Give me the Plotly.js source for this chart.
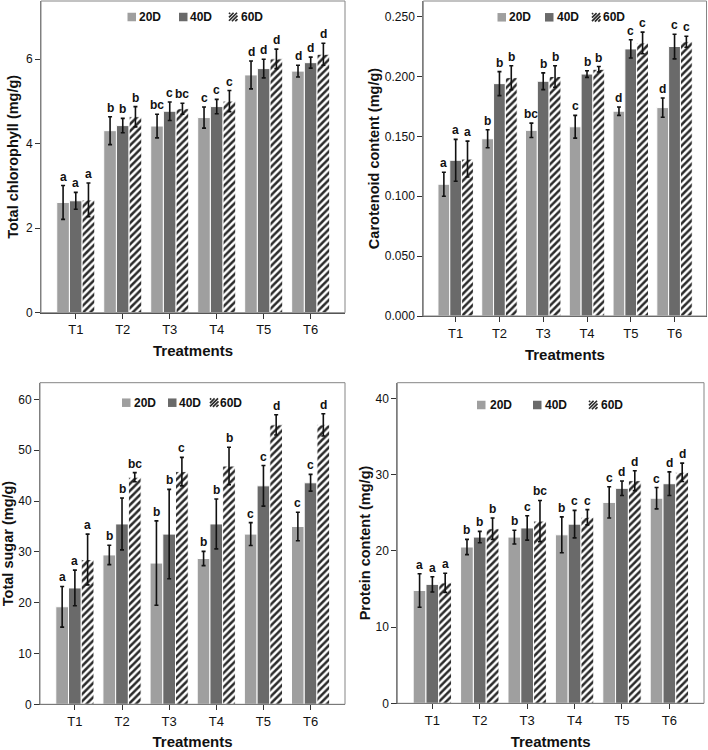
<!DOCTYPE html>
<html>
<head>
<meta charset="utf-8">
<script src="https://cdn.plot.ly/plotly-3.0.1.min.js"></script>
<style>html,body{margin:0;padding:0;background:#fff;}#chart{width:708px;height:750px;}</style>
</head>
<body>
<div id="chart"></div>
<script>
// ---------- data ----------
const treatments = ["T1", "T2", "T3", "T4", "T5", "T6"];
const seriesNames = ["20D", "40D", "60D"];

// Total chlorophyll (mg/g)
const chl20 = [2.61, 4.31, 4.42, 4.62, 5.63, 5.72];
const chl40 = [2.65, 4.43, 4.77, 4.88, 5.78, 5.92];
const chl60 = [2.67, 4.64, 4.83, 5.01, 6.01, 6.12];
const chl20Err = [0.40, 0.33, 0.28, 0.25, 0.33, 0.14];
const chl40Err = [0.20, 0.17, 0.22, 0.17, 0.22, 0.13];
const chl60Err = [0.40, 0.24, 0.13, 0.25, 0.23, 0.26];
const chl20Let = ["a", "b", "bc", "c", "d", "d"];
const chl40Let = ["a", "b", "c", "c", "d", "d"];
const chl60Let = ["a", "b", "bc", "c", "d", "d"];

// Carotenoid content (mg/g)
const car20 = [0.110, 0.148, 0.155, 0.158, 0.171, 0.174];
const car40 = [0.130, 0.194, 0.196, 0.202, 0.223, 0.225];
const car60 = [0.131, 0.199, 0.200, 0.206, 0.228, 0.229];
const car20Err = [0.010, 0.0075, 0.006, 0.0095, 0.0035, 0.008];
const car40Err = [0.0175, 0.010, 0.007, 0.0028, 0.0076, 0.0103];
const car60Err = [0.015, 0.010, 0.009, 0.0023, 0.009, 0.0046];
const car20Let = ["a", "b", "bc", "c", "d", "d"];
const car40Let = ["a", "b", "b", "b", "c", "c"];
const car60Let = ["a", "b", "b", "b", "c", "c"];

// Total sugar (mg/g)
const sug20 = [19.2, 29.4, 27.8, 28.7, 33.5, 35.0];
const sug40 = [22.9, 35.5, 33.5, 35.5, 43.0, 43.6];
const sug60 = [28.5, 44.7, 45.8, 46.9, 55.0, 55.0];
const sug20Err = [4.0, 1.9, 8.3, 1.4, 2.25, 2.8];
const sug40Err = [3.5, 5.1, 8.8, 4.9, 4.0, 1.65];
const sug60Err = [5.0, 0.9, 2.8, 3.7, 2.0, 2.2];
const sug20Let = ["a", "b", "b", "b", "c", "c"];
const sug40Let = ["a", "b", "b", "b", "c", "c"];
const sug60Let = ["a", "bc", "c", "b", "d", "d"];

// Protein content (mg/g)
const pro20 = [14.8, 20.5, 21.8, 22.1, 26.35, 26.9];
const pro40 = [15.6, 21.8, 23.0, 23.5, 28.2, 28.8];
const pro60 = [15.8, 22.9, 23.9, 24.4, 29.2, 30.3];
const pro20Err = [2.2, 1.0, 0.9, 2.35, 2.05, 1.4];
const pro40Err = [1.0, 0.75, 1.6, 1.8, 0.95, 1.55];
const pro60Err = [1.25, 1.4, 2.7, 1.0, 1.3, 1.2];
const pro20Let = ["a", "b", "b", "b", "c", "c"];
const pro40Let = ["a", "b", "c", "c", "d", "d"];
const pro60Let = ["a", "b", "bc", "c", "d", "d"];

const yTitles = ["Total chlorophyll (mg/g)", "Carotenoid content (mg/g)", "Total sugar (mg/g)", "Protein content (mg/g)"];
const xTitle = "Treatments";

// ---------- build ----------
const FONT = "Arial, 'Liberation Sans', sans-serif";
const W = 708, H = 750;
const panels = [
  {vals: [chl20, chl40, chl60], errs: [chl20Err, chl40Err, chl60Err], lets: [chl20Let, chl40Let, chl60Let],
   px: [41, 345], py: [1, 312.7], yr: [0, 7.38], tv: [0, 2, 4, 6], fmt: "", so: 3,
   leg: {sw: [127.5, 179, 229], tx: [138.5, 189.5, 240], yc: 17}},
  {vals: [car20, car40, car60], errs: [car20Err, car40Err, car60Err], lets: [car20Let, car40Let, car60Let],
   px: [423.3, 706.5], py: [1, 316], yr: [0, 0.263], tv: [0, 0.05, 0.1, 0.15, 0.2, 0.25], fmt: ".3f", so: 1,
   leg: {sw: [497.5, 545, 592], tx: [508, 556, 602], yc: 17.3}},
  {vals: [sug20, sug40, sug60], errs: [sug20Err, sug40Err, sug60Err], lets: [sug20Let, sug40Let, sug60Let],
   px: [40, 345], py: [382.7, 704.3], yr: [0, 63.3], tv: [0, 10, 20, 30, 40, 50, 60], fmt: "", so: 4,
   leg: {sw: [122, 168, 210], tx: [133, 178, 219.5], yc: 402.7}},
  {vals: [pro20, pro40, pro60], errs: [pro20Err, pro40Err, pro60Err], lets: [pro20Let, pro40Let, pro60Let],
   px: [397.3, 704], py: [382.7, 703.3], yr: [0, 42.05], tv: [0, 10, 20, 30, 40], fmt: "", so: 1,
   leg: {sw: [477, 533, 589], tx: [489, 544.5, 600.5], yc: 405}}
];

const BARGAP = 0.19;
const barW = (1 - BARGAP) / 3;
const FILL = ["#9f9f9f", "#6a6a6a", "#ffffff"];
const HATCH = "#2b2b2b";
const styles = [
  {color: FILL[0]},
  {color: FILL[1]},
  {color: FILL[2], pattern: {shape: "/", fgcolor: HATCH, bgcolor: "#ffffff", size: 5, solidity: 0.5, fillmode: "replace"}}
];

const data = [];
const annotations = [];
const shapes = [];
const layout = {
  width: W, height: H,
  margin: {l: 0, r: 0, t: 0, b: 0},
  paper_bgcolor: "#ffffff", plot_bgcolor: "#ffffff",
  barmode: "group", bargap: BARGAP, bargroupgap: 0,
  showlegend: false,
  font: {family: FONT, color: "#111"},
  annotations: annotations, shapes: shapes
};

const px2x = v => v / W;
const px2y = v => (H - v) / H;

panels.forEach((p, k) => {
  const n = k + 1;
  const xa = n === 1 ? "x" : "x" + n;
  const ya = n === 1 ? "y" : "y" + n;
  for (let s = 0; s < 3; s++) {
    data.push({
      type: "bar", x: treatments, y: p.vals[s], name: seriesNames[s],
      xaxis: xa, yaxis: ya, showlegend: false,
      marker: Object.assign({line: {color: "#ffffff", width: 1}}, styles[s]),
      error_y: {type: "data", array: p.errs[s], visible: true, color: "#111", thickness: 1.6, width: 2},
      hoverinfo: "skip"
    });
    for (let i = 0; i < treatments.length; i++) {
      annotations.push({
        xref: xa, yref: ya, x: i + (s - 1) * barW, y: p.vals[s][i] + p.errs[s][i],
        text: p.lets[s][i], showarrow: false, yanchor: "bottom", xanchor: "center", yshift: 0,
        font: {family: FONT, size: 12, color: "#111", weight: "bold"}
      });
    }
  }
  const xdom = [p.px[0] / W, p.px[1] / W];
  const ydom = [(H - p.py[1]) / H, (H - p.py[0]) / H];
  layout["xaxis" + (n === 1 ? "" : n)] = {
    domain: xdom, anchor: ya, type: "category", range: [-0.74, 5.73],
    showline: true, linecolor: "#4a4a4a", linewidth: 1, mirror: false,
    ticks: "outside", ticklen: 5, tickcolor: "#333", tickwidth: 1,
    tickfont: {family: FONT, size: 13, color: "#111"},
    showgrid: false, zeroline: false, fixedrange: true,
    title: {text: xTitle, font: {family: FONT, size: 15, color: "#111", weight: "bold"}, standoff: 9}
  };
  layout["yaxis" + (n === 1 ? "" : n)] = {
    domain: ydom, anchor: xa, range: p.yr, tickvals: p.tv, tickformat: p.fmt,
    showline: true, linecolor: "#7a7a7a", linewidth: 1,
    ticks: "outside", ticklen: 5, tickcolor: "#333", tickwidth: 1,
    tickfont: {family: FONT, size: 12, color: "#111"},
    showgrid: false, zeroline: false, fixedrange: true,
    title: {text: yTitles[k], font: {family: FONT, size: 14.5, color: "#111", weight: "bold"}, standoff: p.so}
  };
  shapes.push({type: "rect", xref: xa + " domain", yref: ya + " domain", x0: 0, x1: 1, y0: 0, y1: 1,
    line: {color: "#858585", width: 1}, fillcolor: "rgba(0,0,0,0)", layer: "above"});

  // legend (swatches + labels) inside the top of each panel
  const S = 8.5;
  for (let s = 0; s < 3; s++) {
    const L = p.leg.sw[s], T = p.leg.yc - S / 2;
    shapes.push({type: "rect", xref: "paper", yref: "paper",
      x0: px2x(L), x1: px2x(L + S), y0: px2y(T + S), y1: px2y(T),
      line: {width: 0}, fillcolor: FILL[s], layer: "above"});
    if (s === 2) {
      let path = "";
      for (let c = 1.2; c < 2 * S; c += 3.4) {
        const u1 = Math.max(0, c - S), u2 = Math.min(S, c);
        path += "M" + px2x(L + u1) + "," + px2y(T + c - u1) + "L" + px2x(L + u2) + "," + px2y(T + c - u2);
      }
      shapes.push({type: "path", xref: "paper", yref: "paper", path: path,
        line: {color: HATCH, width: 1.7}, layer: "above"});
    }
    annotations.push({xref: "paper", yref: "paper", x: px2x(p.leg.tx[s] - 1.5), y: px2y(p.leg.yc),
      xanchor: "left", yanchor: "middle", showarrow: false, text: seriesNames[s],
      font: {family: FONT, size: 12, color: "#111", weight: "bold"}});
  }
});

Plotly.newPlot("chart", data, layout, {staticPlot: true, displayModeBar: false});
</script>
</body>
</html>
